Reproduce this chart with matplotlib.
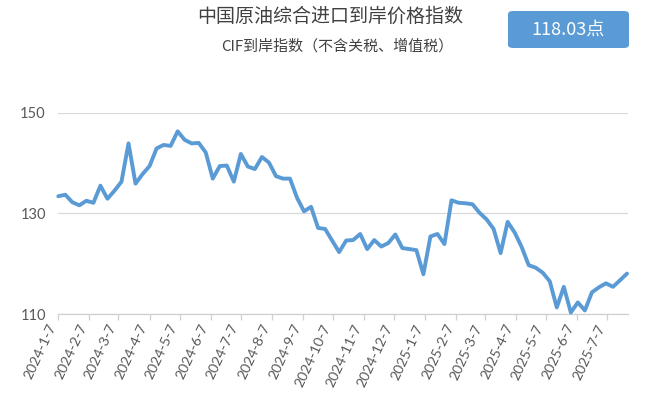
import numpy as np
import pandas as pd
import matplotlib.pyplot as plt
from matplotlib.patches import FancyBboxPatch

# weekly CIF index values
values = [133.4, 133.7, 132.2, 131.6, 132.5, 132.1, 135.5, 132.9, 134.5, 136.3,
          143.9, 135.9, 137.8, 139.4, 142.9, 143.6, 143.4, 146.3, 144.6, 143.9,
          144.0, 142.1, 136.9, 139.4, 139.5, 136.3, 141.8, 139.3, 138.8, 141.2,
          140.1, 137.4, 136.9, 136.9, 133.1, 130.4, 131.3, 127.1, 126.9, 124.6,
          122.3, 124.6, 124.7, 125.9, 122.9, 124.7, 123.4, 124.1, 125.8, 123.1,
          122.9, 122.7, 117.9, 125.4, 125.9, 123.9, 132.6, 132.1, 132.0, 131.8,
          130.1, 128.8, 126.9, 122.1, 128.3, 126.2, 123.3, 119.7, 119.2, 118.2,
          116.5, 111.3, 115.4, 110.3, 112.3, 110.7, 114.3, 115.3, 116.1, 115.4,
          116.7, 118.03]
dates = pd.date_range('2024-01-07', periods=len(values), freq='7D')

tick_labels = ['2024-1-7', '2024-2-7', '2024-3-7', '2024-4-7', '2024-5-7', '2024-6-7',
               '2024-7-7', '2024-8-7', '2024-9-7', '2024-10-7', '2024-11-7', '2024-12-7',
               '2025-1-7', '2025-2-7', '2025-3-7', '2025-4-7', '2025-5-7', '2025-6-7',
               '2025-7-7']
tick_dates = pd.to_datetime(tick_labels, format='%Y-%m-%d')
y_ticks = [110, 130, 150]

title = '中国原油综合进口到岸价格指数'
subtitle = 'CIF到岸指数（不含关税、增值税）'
latest = '118.03点'

blue = '#5b9bd5'
grey_txt = '#595959'
cjk = ['Noto Sans CJK SC', 'DejaVu Sans']

fig = plt.figure(figsize=(6.54, 3.93), dpi=100)
ax = fig.add_axes([58.3/654, 1-314/393, (628-58.3)/654, (314-112.7)/393])

ax.plot(dates, values, color=blue, lw=2.8, solid_joinstyle='round', solid_capstyle='round',
        zorder=3, clip_on=False)

ax.set_ylim(110, 150)
ax.set_yticks(y_ticks)
ax.set_xlim(pd.Timestamp('2024-01-07'), pd.Timestamp('2025-07-28'))
ax.set_xticks(tick_dates)
ax.set_xticklabels(tick_labels, rotation=65, ha='right', va='top')

ax.grid(axis='y', color='#d9d9d9', lw=0.9, zorder=0)
for s in ['top', 'right', 'left']:
    ax.spines[s].set_visible(False)
ax.spines['bottom'].set_color('#d0d0d0')
ax.spines['bottom'].set_linewidth(0.9)
ax.tick_params(axis='y', length=0, pad=9, labelsize=10.5, labelcolor=grey_txt)
ax.tick_params(axis='x', length=4, width=0.9, color='#d0d0d0', pad=2, labelsize=10.2,
               labelcolor=grey_txt)
for lab in ax.get_xticklabels() + ax.get_yticklabels():
    lab.set_family('Lato')

#titles
fig.text(330/654, 1-16/393, title, family=cjk, fontsize=13.7, color='#404040',
         ha='center', va='center')
fig.text(337/654, 1-46/393, subtitle, family=cjk, fontsize=10.8, color='#404040',
         ha='center', va='center')

#box with latest value
box = FancyBboxPatch((508/654, 1-48/393), 121/654, 37/393, transform=fig.transFigure,
                     boxstyle='round,pad=0,rounding_size=0.008', fc=blue, ec='none')
fig.patches.append(box)
fig.text(568/654, 1-29.5/393, latest, family=cjk, fontsize=13, color='white',
         ha='center', va='center')

fig.savefig('out.png', dpi=100)
